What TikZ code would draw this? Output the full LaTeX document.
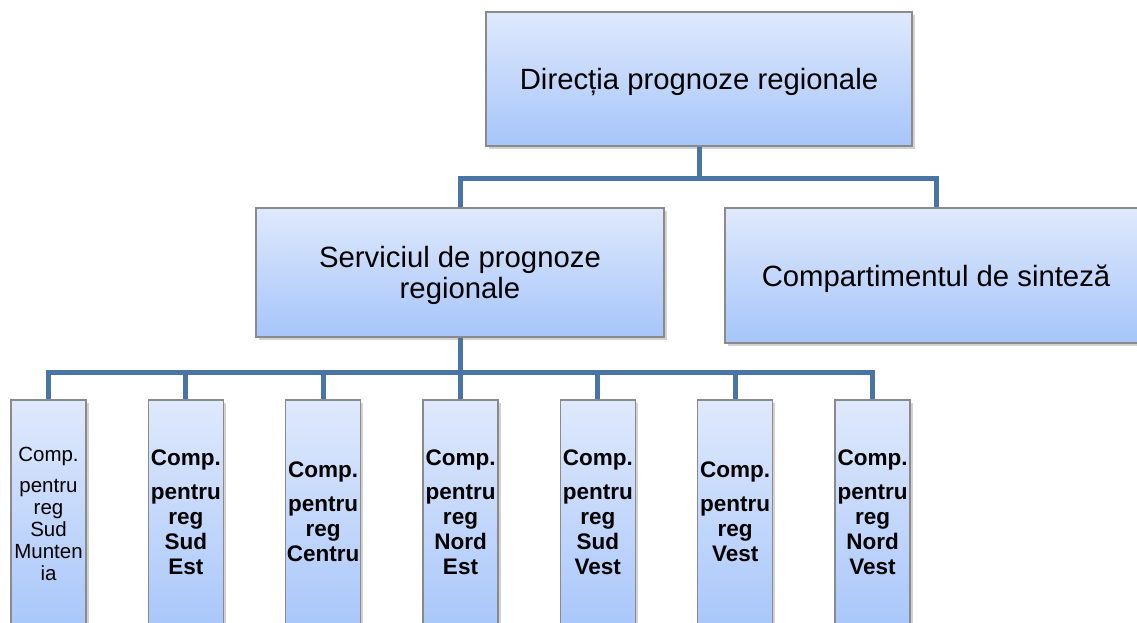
\documentclass[tikz,border=0pt]{standalone}
\usepackage{fontspec}
\setmainfont{Liberation Sans}
\usetikzlibrary{shadows}
\definecolor{boxtop}{RGB}{223,233,252}
\definecolor{boxbot}{RGB}{166,197,250}
\definecolor{boxline}{RGB}{138,138,138}
\definecolor{connc}{RGB}{72,117,166}
\tikzset{
  orgbox/.style={draw=boxline, line width=1.2pt, top color=boxtop, bottom color=boxbot,
    inner sep=0pt, align=center, font=\fontsize{29.3}{31}\selectfont, text depth=0pt,
    drop shadow={opacity=0.35, shadow xshift=2.5pt, shadow yshift=-3pt}},
  colbox/.style={orgbox, minimum width=75pt, minimum height=240pt},
  btext/.style={align=center, inner sep=0pt, font=\bfseries\fontsize{22.5}{25}\selectfont},
  rtext/.style={align=center, inner sep=0pt, font=\fontsize{20.5}{22}\selectfont},
  conn/.style={draw=connc, line width=5pt}
}
\begin{document}
\begin{tikzpicture}[x=1pt,y=-1pt]
\useasboundingbox (0,0) rectangle (1137,623);
\clip (0,0) rectangle (1137,623);
\fill[white] (0,0) rectangle (1137,623);
\node[orgbox, minimum width=426pt, minimum height=134pt] (top) at (699,79) {Direcția prognoze regionale};
\node[orgbox, minimum width=408pt, minimum height=129pt] (serv) at (460,272.5) {Serviciul de prognoze\\regionale};
\node[orgbox, minimum width=422pt, minimum height=135pt] (sint) at (936,275.5) {Compartimentul de sinteză};
\foreach \i/\x in {1/48.5,2/185.8,3/323.2,4/460.5,5/597.8,6/735.2,7/872.5}{
  \node[colbox] (b\i) at (\x,520) {};
}
\draw[conn] (top.south) -- ++(0,32) -| (serv.north);
\draw[conn] (top.south) -- ++(0,32) -| (sint.north);
\foreach \i in {1,...,7}{
  \draw[conn] (serv.south) -- ++(0,35) -| (b\i.north);
}
\node[rtext] (t1) at (48.5,514) {Comp.\\[9pt]pentru\\reg\\Sud\\Munten\\ia};
\node[btext] (t2) at (185.8,512) {Comp.\\[9pt]pentru\\reg\\Sud\\Est};
\node[btext] (t3) at (323.2,512) {Comp.\\[9pt]pentru\\reg\\Centru};
\node[btext] (t4) at (460.5,512) {Comp.\\[9pt]pentru\\reg\\Nord\\Est};
\node[btext] (t5) at (597.8,512) {Comp.\\[9pt]pentru\\reg\\Sud\\Vest};
\node[btext] (t6) at (735.2,512) {Comp.\\[9pt]pentru\\reg\\Vest};
\node[btext] (t7) at (872.5,512) {Comp.\\[9pt]pentru\\reg\\Nord\\Vest};
\end{tikzpicture}
\end{document}
